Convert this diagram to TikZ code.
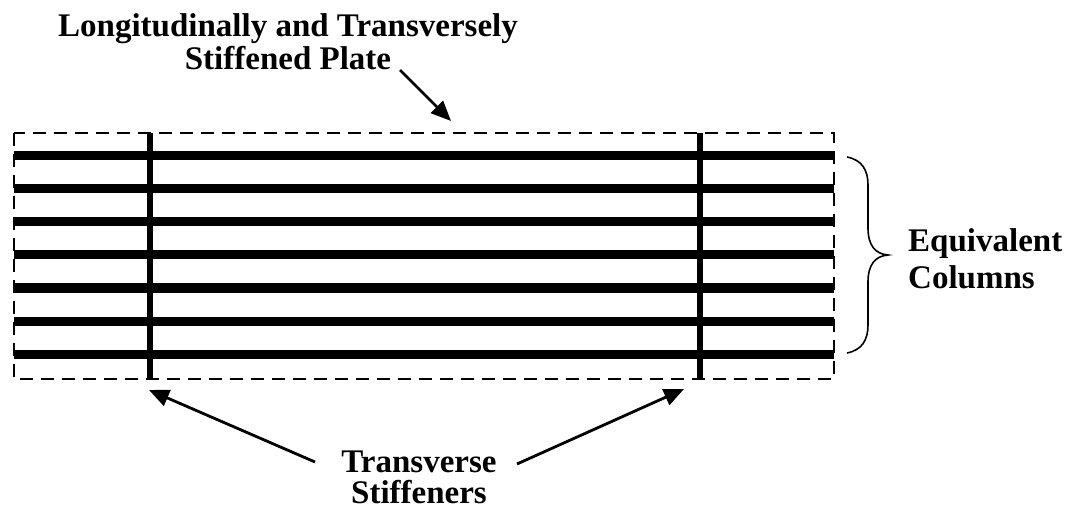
\documentclass[tikz,border=0pt]{standalone}
\usepackage{fontspec}
\setmainfont{Liberation Serif}
\usetikzlibrary{arrows.meta}
\tikzset{
  lbl/.style={font=\bfseries\fontsize{33}{33}\selectfont, inner sep=0pt, align=center},
  plate/.style={line width=1.5pt, dash pattern=on 13pt off 8pt},
  longit/.style={line width=9pt},
  transv/.style={line width=6pt},
  pointer/.style={line width=2.8pt, -{Triangle[length=20pt,width=17pt]}},
  bracecurve/.style={line width=1.6pt}
}
\begin{document}
\begin{tikzpicture}[x=1pt,y=-1pt]
\useasboundingbox (0,0) rectangle (1066,513);
% plate outline
\draw[plate] (14,133) rectangle (834,379);
% longitudinal stiffeners
\foreach \y in {156,189,222,255,288,321,354}
  \draw[longit] (14,\y) -- (834,\y);
% transverse stiffeners
\draw[transv] (150,133) -- (150,379);
\draw[transv] (700,133) -- (700,379);
% brace
\draw[bracecurve] (847,157) .. controls (862,160) and (868,170) .. (868,185) -- (868,228)
  .. controls (868,245) and (875,254) .. (888,255)
  .. controls (875,256) and (868,265) .. (868,282) -- (868,325)
  .. controls (868,340) and (862,350) .. (847,353);
% labels (base anchor = baseline of last line)
\node[lbl, anchor=base] (title) at (288,70) {Longitudinally and Transversely\\Stiffened Plate};
\node[lbl, anchor=base west, align=left, font=\bfseries\fontsize{33}{36}\selectfont] (eq) at (908,288) {Equivalent\\Columns};
\node[lbl, anchor=base, font=\bfseries\fontsize{33}{31}\selectfont] (ts) at (419,503) {Transverse\\Stiffeners};
% arrows
\coordinate (ptip) at (451,121);
\coordinate (pstart) at (400,70);
\coordinate (lstart) at (315,462);
\coordinate (ltip) at (149,390);
\coordinate (rstart) at (517,464);
\coordinate (rtip) at (684,389);
\draw[pointer] (pstart) -- (ptip);
\draw[pointer] (lstart) -- (ltip);
\draw[pointer] (rstart) -- (rtip);
\end{tikzpicture}
\end{document}
